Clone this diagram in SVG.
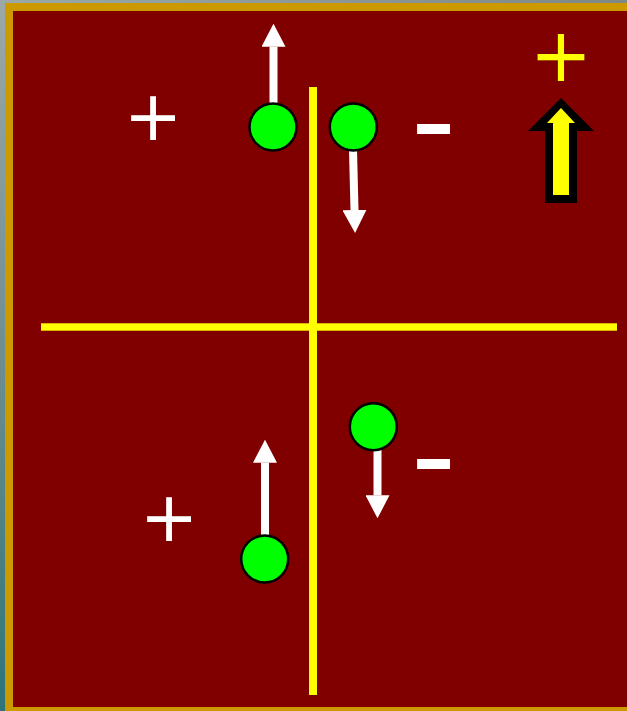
<svg xmlns="http://www.w3.org/2000/svg" width="627" height="711" viewBox="0 0 627 711">
  <defs>
    <linearGradient id="outerV" x1="0" y1="0" x2="0" y2="1">
      <stop offset="0" stop-color="#9ba8a8"/>
      <stop offset="0.5" stop-color="#6f8e90"/>
      <stop offset="1" stop-color="#2d7478"/>
    </linearGradient>
    <linearGradient id="outerH" x1="0" y1="0" x2="1" y2="0">
      <stop offset="0" stop-color="#9ba8a8"/>
      <stop offset="1" stop-color="#7c8987"/>
    </linearGradient>
    <marker id="head" viewBox="0 0 23 24" refX="0" refY="12" markerWidth="23" markerHeight="24" markerUnits="userSpaceOnUse" orient="auto">
      <path d="M0,0 L23,12 L0,24 Z" fill="#ffffff"/>
    </marker>
    <style>
      .sign { font-family: "DejaVu Sans", sans-serif; text-anchor: middle; }
      .white { fill: #ffffff; }
      .ball { fill: #00ff00; stroke: #000000; stroke-width: 2.5; }
      .arrow { stroke: #ffffff; stroke-width: 8; fill: none; marker-end: url(#head); }
      .axis { fill: #ffff00; }
    </style>
  </defs>

  <!-- frame -->
  <rect x="0" y="0" width="627" height="711" fill="url(#outerV)"/>
  <rect x="0" y="0" width="627" height="3" fill="url(#outerH)"/>
  <rect x="5" y="3" width="622" height="708" fill="#cc9900"/>
  <rect x="13" y="11" width="614" height="696" fill="#800000"/>

  <!-- axes -->
  <g id="axes">
    <rect class="axis" x="309" y="87" width="8" height="608"/>
    <rect class="axis" x="41" y="323.3" width="576" height="7.4"/>
  </g>

  <!-- arrows -->
  <g id="connectors">
    <line class="arrow" x1="273.5" y1="104" x2="273.5" y2="46.7"/>
    <line class="arrow" x1="353" y1="150" x2="354.5" y2="210"/>
    <line class="arrow" x1="265" y1="536" x2="265" y2="462.7"/>
    <line class="arrow" x1="377.5" y1="449" x2="377.5" y2="495.3"/>
  </g>

  <!-- charges -->
  <g id="charge-top-left"><circle class="ball" cx="273" cy="127" r="23.5"/></g>
  <g id="charge-top-right"><circle class="ball" cx="353.3" cy="127" r="23.5"/></g>
  <g id="charge-bottom-right"><circle class="ball" cx="373.3" cy="426.7" r="23.5"/></g>
  <g id="charge-bottom-left"><circle class="ball" cx="264.7" cy="559" r="23.5"/></g>

  <!-- signs -->
  <g id="sign-plus-top"><text class="sign white" x="153" y="140.4" font-size="70">+</text></g>
  <g id="sign-minus-top"><text class="sign white" x="433.5" y="162.7" font-size="125">-</text></g>
  <g id="sign-plus-bottom"><text class="sign white" x="169" y="540.9" font-size="70">+</text></g>
  <g id="sign-minus-bottom"><text class="sign white" x="433.5" y="497.7" font-size="125">-</text></g>
  <g id="sign-plus-yellow"><text class="sign" x="561" y="81.3" font-size="74.5" fill="#ffff00">+</text></g>

  <!-- big yellow arrow -->
  <g id="big-arrow">
    <polygon points="561,98 594,131 577,131 577,203 545,203 545,131 528,131" fill="#000000"/>
    <polygon points="561,108 575,123 569,123 569,195 553,195 553,123 547,123" fill="#ffff00"/>
  </g>
</svg>
